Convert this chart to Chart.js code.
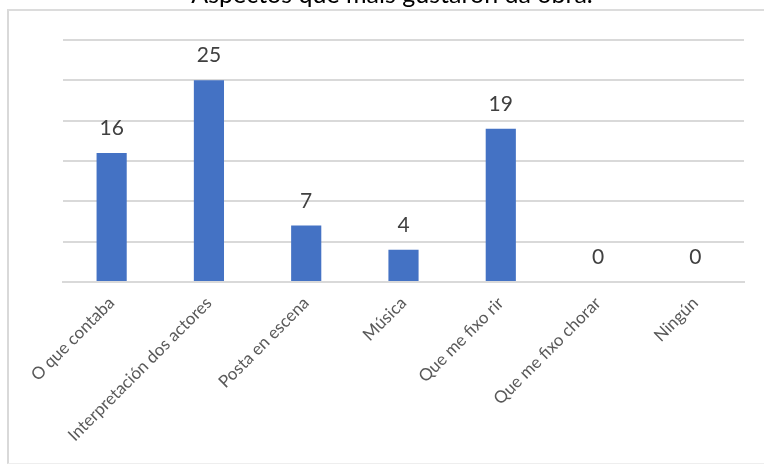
<!DOCTYPE html>
<html>
<head>
<meta charset="utf-8">
<script src="https://cdn.jsdelivr.net/npm/chart.js@4/dist/chart.umd.min.js"></script>
<style>
  html, body { margin: 0; padding: 0; background: #fff; overflow: hidden; }
  #wrap { position: relative; width: 764px; height: 466px; overflow: hidden; }
  #frame { position: absolute; left: 7px; top: 9px; width: 760px; height: 452px;
           border-left: 2px solid #d9d9d9; border-top: 2px solid #dcdcdc; border-bottom: 1px solid #eeeeee; }
  #cv { position: absolute; left: 0; top: -20px; }
</style>
</head>
<body>
<div id="wrap">
  <div id="frame"></div>
  <canvas id="cv" width="764" height="486"></canvas>
</div>
<script>
const titleText = "Aspectos que máis gustaron da obra.";
const categories = ["O que contaba", "Interpretación dos actores", "Posta en escena", "Música", "Que me fixo rir", "Que me fixo chorar", "Ningún"];
const values = [16, 25, 7, 4, 19, 0, 0];
const yMax = 30;
const yStep = 5;

const valueLabels = {
  id: 'valueLabels',
  afterDatasetsDraw(chart) {
    const ctx = chart.ctx;
    const meta = chart.getDatasetMeta(0);
    ctx.save();
    ctx.font = '21px Lato';
    ctx.fillStyle = '#404040';
    ctx.textAlign = 'center';
    ctx.textBaseline = 'alphabetic';
    meta.data.forEach((el, i) => {
      ctx.fillText(String(values[i]), el.x, el.y - 18);
    });
    ctx.restore();
  }
};

new Chart(document.getElementById('cv'), {
  type: 'bar',
  data: {
    labels: categories,
    datasets: [{
      data: values,
      backgroundColor: '#4472C4',
      borderWidth: 0,
      categoryPercentage: 1,
      barPercentage: 0.31
    }]
  },
  options: {
    responsive: false,
    animation: false,
    layout: { padding: { left: 40, right: 20, top: 0, bottom: 0 } },
    plugins: {
      legend: { display: false },
      tooltip: { enabled: false },
      title: {
        display: true,
        text: titleText,
        color: '#000000',
        font: { family: 'Lato', size: 25, weight: 'normal' },
        padding: { top: 0, bottom: 30 }
      }
    },
    scales: {
      x: {
        grid: { display: false, drawTicks: false },
        border: { display: true, color: '#d9d9d9', width: 2 },
        ticks: {
          color: '#595959',
          font: { family: 'Lato', size: 17 },
          minRotation: 45,
          maxRotation: 45,
          autoSkip: false,
          padding: 11
        },
        afterFit(scale) { scale.height = 184; }
      },
      y: {
        min: 0,
        max: yMax,
        ticks: { display: false, stepSize: yStep },
        grid: { color: '#d9d9d9', lineWidth: 2, drawTicks: false },
        border: { display: false },
        afterFit(scale) { scale.width = 23; }
      }
    }
  },
  plugins: [valueLabels]
});
</script>
</body>
</html>
